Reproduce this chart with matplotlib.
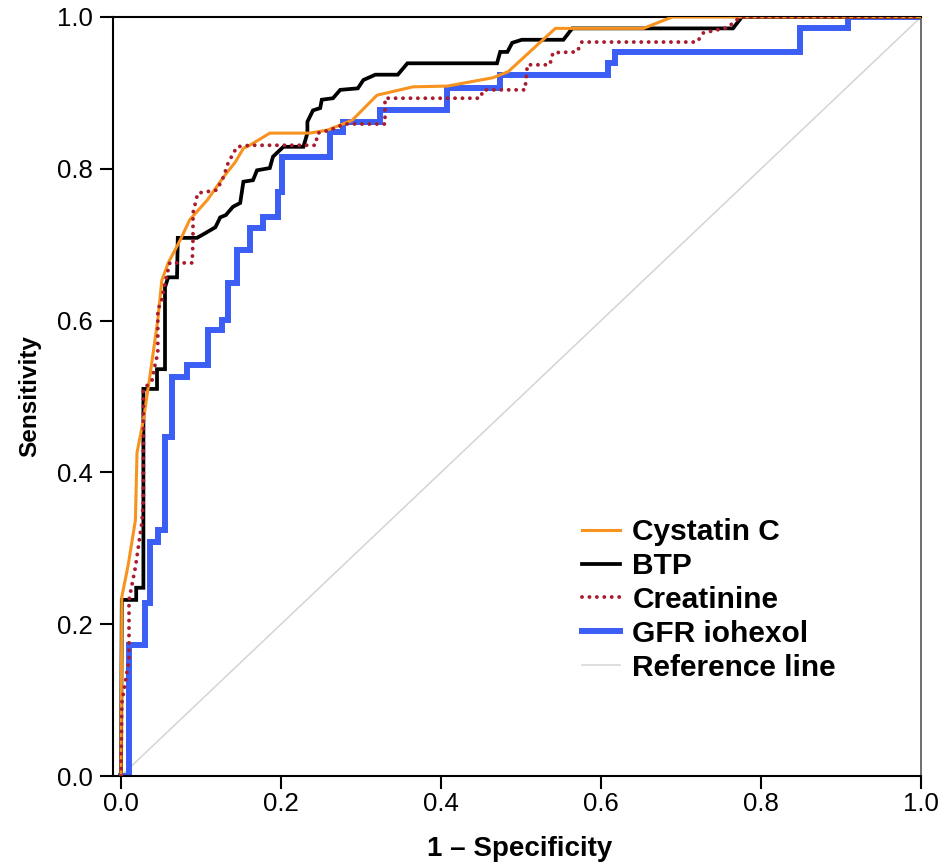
import matplotlib
matplotlib.use("Agg")
import matplotlib.pyplot as plt
from matplotlib import font_manager as fm

# ---------------- data ----------------
series_names = ["Cystatin C", "BTP", "Creatinine", "GFR iohexol", "Reference line"]

cys_fpr = [0.000, 0.001, 0.009, 0.018, 0.020, 0.028, 0.036, 0.046, 0.051, 0.059, 0.074,
           0.086, 0.108, 0.128, 0.143, 0.153, 0.161, 0.186, 0.236, 0.258, 0.289, 0.320,
           0.365, 0.408, 0.465, 0.484, 0.543, 0.653, 0.689, 1.000]
cys_tpr = [0.000, 0.236, 0.278, 0.337, 0.426, 0.469, 0.526, 0.601, 0.653, 0.676, 0.706,
           0.733, 0.759, 0.789, 0.809, 0.827, 0.831, 0.847, 0.847, 0.851, 0.864, 0.897,
           0.908, 0.909, 0.920, 0.928, 0.985, 0.985, 1.000, 1.000]

btp_fpr = [0.000, 0.001, 0.019, 0.019, 0.028, 0.028, 0.045, 0.045, 0.055, 0.055, 0.059,
           0.070, 0.071, 0.095, 0.105, 0.118, 0.124, 0.131, 0.140, 0.149, 0.153, 0.165,
           0.170, 0.186, 0.190, 0.203, 0.228, 0.233, 0.233, 0.240, 0.249, 0.251, 0.265,
           0.274, 0.296, 0.303, 0.318, 0.346, 0.358, 0.470, 0.474, 0.483, 0.489, 0.501,
           0.553, 0.564, 0.765, 0.776, 1.000]
btp_tpr = [0.000, 0.232, 0.232, 0.248, 0.248, 0.510, 0.510, 0.536, 0.536, 0.644, 0.657,
           0.657, 0.709, 0.709, 0.715, 0.723, 0.736, 0.739, 0.750, 0.755, 0.783, 0.785,
           0.798, 0.801, 0.816, 0.829, 0.829, 0.847, 0.862, 0.877, 0.880, 0.891, 0.893,
           0.904, 0.906, 0.917, 0.924, 0.924, 0.939, 0.939, 0.954, 0.954, 0.966, 0.970,
           0.970, 0.985, 0.985, 1.000, 1.000]

cre_fpr = [0.000, 0.001, 0.010, 0.010, 0.018, 0.026, 0.028, 0.028, 0.039, 0.043, 0.046,
           0.046, 0.051, 0.055, 0.061, 0.089, 0.090, 0.090, 0.096, 0.120, 0.128, 0.134,
           0.145, 0.161, 0.243, 0.246, 0.261, 0.280, 0.330, 0.330, 0.449, 0.453, 0.505,
           0.508, 0.536, 0.540, 0.570, 0.576, 0.720, 0.728, 0.758, 0.774, 1.000]
cre_tpr = [0.000, 0.096, 0.153, 0.232, 0.275, 0.333, 0.364, 0.509, 0.522, 0.544, 0.557,
           0.614, 0.627, 0.650, 0.676, 0.676, 0.706, 0.742, 0.768, 0.772, 0.789, 0.808,
           0.829, 0.831, 0.831, 0.847, 0.851, 0.859, 0.859, 0.893, 0.893, 0.904, 0.904,
           0.937, 0.937, 0.953, 0.954, 0.967, 0.967, 0.979, 0.986, 1.000, 1.000]

# GFR iohexol: step corners (drawn with steps-post)
gfr_fpr = [0.000, 0.010, 0.030, 0.036, 0.046, 0.055, 0.064, 0.083, 0.109, 0.126, 0.134,
           0.145, 0.161, 0.178, 0.196, 0.201, 0.261, 0.278, 0.324, 0.408, 0.474, 0.609,
           0.618, 0.849, 0.909, 1.000]
gfr_tpr = [0.000, 0.173, 0.228, 0.308, 0.324, 0.447, 0.526, 0.541, 0.588, 0.601, 0.650,
           0.693, 0.722, 0.737, 0.769, 0.816, 0.848, 0.862, 0.877, 0.906, 0.924, 0.939,
           0.954, 0.985, 1.000, 1.000]

ref_x = [0.0, 1.0]
ref_y = [0.0, 1.0]

x_ticks = [0.0, 0.2, 0.4, 0.6, 0.8, 1.0]
y_ticks = [0.0, 0.2, 0.4, 0.6, 0.8, 1.0]
tick_labels = ["0.0", "0.2", "0.4", "0.6", "0.8", "1.0"]

# ---------------- fonts ----------------
names = {f.name for f in fm.fontManager.ttflist}
narrow = "Liberation Sans Narrow" if "Liberation Sans Narrow" in names else "Liberation Sans"
axis_font = [narrow, "DejaVu Sans"]
legend_font = ["Liberation Sans", "DejaVu Sans"]

# ---------------- figure ----------------
W, H = 939, 864
fig = plt.figure(figsize=(W / 100, H / 100), dpi=100)
ax = fig.add_axes([113 / W, (H - 776) / H, (921 - 113) / W, (776 - 17) / H])

c_orange = "#f7931e"
c_black = "#000000"
c_red = "#a81c2e"
c_blue = "#3b5ef4"
c_ref = "#d4d4d4"

ax.plot(ref_x, ref_y, color=c_ref, lw=1.1, label=series_names[4], zorder=1)
ax.plot(gfr_fpr, gfr_tpr, color=c_blue, lw=4.3, drawstyle="steps-post",
        solid_joinstyle="miter", label=series_names[3], zorder=2)
ax.plot(btp_fpr, btp_tpr, color=c_black, lw=2.7, solid_joinstyle="miter",
        label=series_names[1], zorder=3)
ax.plot(cys_fpr, cys_tpr, color=c_orange, lw=2.2, label=series_names[0], zorder=4)
ax.plot(cre_fpr, cre_tpr, color=c_red, lw=2.8, linestyle=(0, (0.01, 1.9)),
        dash_capstyle="round", label=series_names[2], zorder=5)

ax.set_xlim(-0.01, 1.0)
ax.set_ylim(0.0, 1.0)
ax.set_xticks(x_ticks)
ax.set_yticks(y_ticks)
ax.set_xticklabels(tick_labels, family=axis_font, fontsize=18.5)
ax.set_yticklabels(tick_labels, family=axis_font, fontsize=18.5)
ax.tick_params(axis="both", direction="out", length=9.5, width=1.5, color="black")
ax.tick_params(axis="x", pad=2)
ax.tick_params(axis="y", pad=5)

for side in ["left", "bottom", "top"]:
    ax.spines[side].set_linewidth(1.5)
    ax.spines[side].set_color("black")
ax.spines["right"].set_linewidth(1.2)
ax.spines["right"].set_color("#555555")

ax.set_xlabel("1 \u2013 Specificity", family=axis_font, fontsize=20, fontweight="bold")
ax.set_ylabel("Sensitivity", family=axis_font, fontsize=17.5, fontweight="bold")
ax.xaxis.set_label_coords(0.503, (776 - 836) / 759)
ax.yaxis.set_label_coords((41 - 113) / 808, 0.5)

handles, labels = ax.get_legend_handles_labels()
order = [labels.index(n) for n in series_names]
leg = ax.legend([handles[i] for i in order], [labels[i] for i in order],
                loc="upper left", bbox_to_anchor=(582 / W, 1 - 518 / H),
                bbox_transform=fig.transFigure, frameon=False,
                prop={"family": legend_font, "weight": "bold", "size": 21.5},
                handlelength=1.27, handletextpad=0.42, labelspacing=0.2,
                borderaxespad=0, borderpad=0)

fig.savefig("out.png", dpi=100)
